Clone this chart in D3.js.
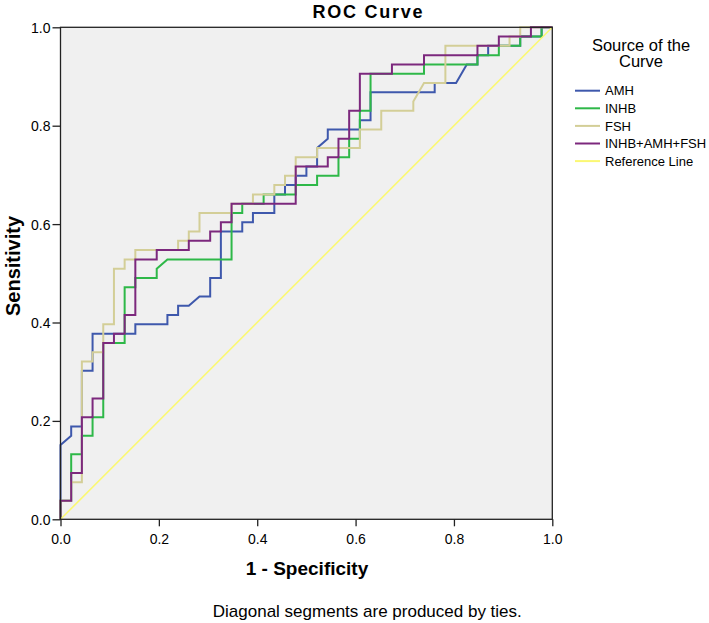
<!DOCTYPE html>
<html>
<head>
<meta charset="utf-8">
<script src="https://cdn.jsdelivr.net/npm/d3@7"></script>
<style>
  html, body { margin: 0; padding: 0; background: #ffffff; }
  svg { display: block; }
  text { font-family: "Liberation Sans", Arial, Helvetica, sans-serif; fill: #000; }
</style>
</head>
<body>
<svg id="chart" width="709" height="623"></svg>
<script>
// ---- Data (counts: 46 negatives, 53 positives) ----
const negatives = 46;
const positives = 53;

const amhFP  = [0,0,1,1,2,2,3,3,7,7,10,10,11,11,12,13,14,14,15,15,17,17,18,18,20,20,21,21,22,22,23,23,24,24,25,25,28,28,29,29,35,35,37,38,39,39,40,40,43,43,45,45,46];
const amhTP  = [0,8,9,10,10,16,16,20,20,21,21,22,22,23,23,24,24,26,26,31,31,32,32,33,33,35,35,36,36,37,37,38,38,40,41,42,42,43,43,46,46,47,47,49,49,50,50,51,51,52,52,53,53];

const inhbFP = [0,0,1,1,2,2,3,3,4,4,6,6,7,7,9,9,10,16,16,17,17,19,19,22,22,24,24,26,26,27,27,28,28,29,29,34,34,39,39,41,41,43,43,45,45,46];
const inhbTP = [0,2,2,7,7,9,9,11,11,19,19,25,25,26,26,27,28,28,33,33,34,34,35,35,36,36,37,37,39,39,41,41,44,44,48,48,49,49,50,50,51,51,52,52,53,53];

const fshFP  = [0,0,1,1,2,2,3,3,4,4,5,5,6,6,7,7,11,11,12,12,13,13,16,16,18,18,20,20,21,21,22,22,24,24,28,28,30,30,33,33,34,36,36,42,42,43,43,46];
const fshTP  = [0,2,2,4,4,17,17,18,18,21,21,27,27,28,28,29,29,30,30,31,31,33,33,34,34,35,35,36,36,37,37,39,39,40,40,42,42,44,44,45,47,47,51,51,52,52,53,53];

const combFP = [0,0,1,1,2,2,3,3,4,4,5,5,6,6,7,7,9,9,12,12,14,14,15,15,16,16,22,22,25,25,26,26,27,27,28,28,31,31,34,34,39,39,41,41,44,44,46];
const combTP = [0,2,2,5,5,11,11,13,13,19,19,20,20,22,22,28,28,29,29,30,30,31,31,32,32,34,34,38,38,39,39,41,41,44,44,48,48,49,49,50,50,51,51,52,52,53,53];

const refX = [0, 1];
const refY = [0, 1];

const seriesNames  = ["AMH", "INHB", "FSH", "INHB+AMH+FSH", "Reference Line"];
const seriesColors = ["#3E58AC", "#2EB848", "#D3CE97", "#7C287D", "#FBF873"];
const tickValues   = [0, 0.2, 0.4, 0.6, 0.8, 1.0];

const chartTitle = "ROC Curve";
const xTitle = "1 - Specificity";
const yTitle = "Sensitivity";
const legendTitle = ["Source of the", "Curve"];
const footnote = "Diagonal segments are produced by ties.";

// ---- Layout ----
const svg = d3.select("#chart");
const L = 60.5, R = 552.3, T = 27.3, B = 519.3;

const x = d3.scaleLinear().domain([0, 1]).range([L, R]);
const y = d3.scaleLinear().domain([0, 1]).range([B, T]);

svg.append("rect").attr("x", 0).attr("y", 0).attr("width", 709).attr("height", 623).attr("fill", "#fff");

// plot background
svg.append("rect")
  .attr("x", L).attr("y", T).attr("width", R - L).attr("height", B - T)
  .attr("fill", "#F0F0F0");

// series
const curves = [
  {fp: amhFP, tp: amhTP},
  {fp: inhbFP, tp: inhbTP},
  {fp: fshFP, tp: fshTP},
  {fp: combFP, tp: combTP}
];

const line = d3.line().x(d => x(d[0])).y(d => y(d[1]));
const plotG = svg.append("g");

curves.forEach((c, k) => {
  const pts = c.fp.map((v, i) => [v / negatives, c.tp[i] / positives]);
  plotG.append("path")
    .attr("d", line(pts))
    .attr("fill", "none")
    .attr("stroke", seriesColors[k])
    .attr("stroke-width", 2)
    .attr("stroke-linejoin", "miter");
});

plotG.append("path")
  .attr("d", line(refX.map((v, i) => [v, refY[i]])))
  .attr("fill", "none")
  .attr("stroke", seriesColors[4])
  .attr("stroke-width", 1.6);

// frame
svg.append("rect")
  .attr("x", L).attr("y", T).attr("width", R - L).attr("height", B - T)
  .attr("fill", "none").attr("stroke", "#222").attr("stroke-width", 1.3);

// axes
const xAxis = svg.append("g").attr("transform", `translate(0,${B})`)
  .call(d3.axisBottom(x).tickValues(tickValues).tickFormat(d3.format(".1f")).tickSize(7).tickSizeOuter(0));
xAxis.select(".domain").remove();
xAxis.selectAll(".tick line").attr("stroke", "#222").attr("stroke-width", 1.3);
xAxis.selectAll(".tick text").attr("y", 25).attr("dy", null).style("font-size", "14px").style("font-family", "'Liberation Sans', Arial, sans-serif");

const yAxis = svg.append("g").attr("transform", `translate(${L},0)`)
  .call(d3.axisLeft(y).tickValues(tickValues).tickFormat(d3.format(".1f")).tickSize(8).tickSizeOuter(0).tickPadding(2));
yAxis.select(".domain").remove();
yAxis.selectAll(".tick line").attr("stroke", "#222").attr("stroke-width", 1.3);
yAxis.selectAll(".tick text").attr("dy", "0.36em").style("font-size", "14px").style("font-family", "'Liberation Sans', Arial, sans-serif");

// titles
svg.append("text").attr("x", 367.5).attr("y", 17.5).attr("text-anchor", "middle")
  .attr("textLength", 110).attr("lengthAdjust", "spacing")
  .style("font-size", "18px").style("font-weight", "bold").text(chartTitle);

svg.append("text").attr("x", 307).attr("y", 575).attr("text-anchor", "middle")
  .style("font-size", "19px").style("font-weight", "bold").text(xTitle);

svg.append("text").attr("transform", "translate(20,266) rotate(-90)").attr("text-anchor", "middle")
  .style("font-size", "20px").style("font-weight", "bold").text(yTitle);

svg.append("text").attr("x", 367.3).attr("y", 617).attr("text-anchor", "middle")
  .style("font-size", "17px").text(footnote);

// legend
const lg = svg.append("g");
legendTitle.forEach((t, i) => {
  lg.append("text").attr("x", 641).attr("y", 50.5 + i * 16.5).attr("text-anchor", "middle")
    .style("font-size", "16.5px").text(t);
});
seriesNames.forEach((name, i) => {
  const yy = 90.7 + i * 17.6;
  lg.append("line").attr("x1", 575).attr("x2", 600).attr("y1", yy).attr("y2", yy)
    .attr("stroke", seriesColors[i]).attr("stroke-width", 2);
  lg.append("text").attr("x", 605).attr("y", yy + 4.7).style("font-size", "13px").text(name);
});
</script>
</body>
</html>
